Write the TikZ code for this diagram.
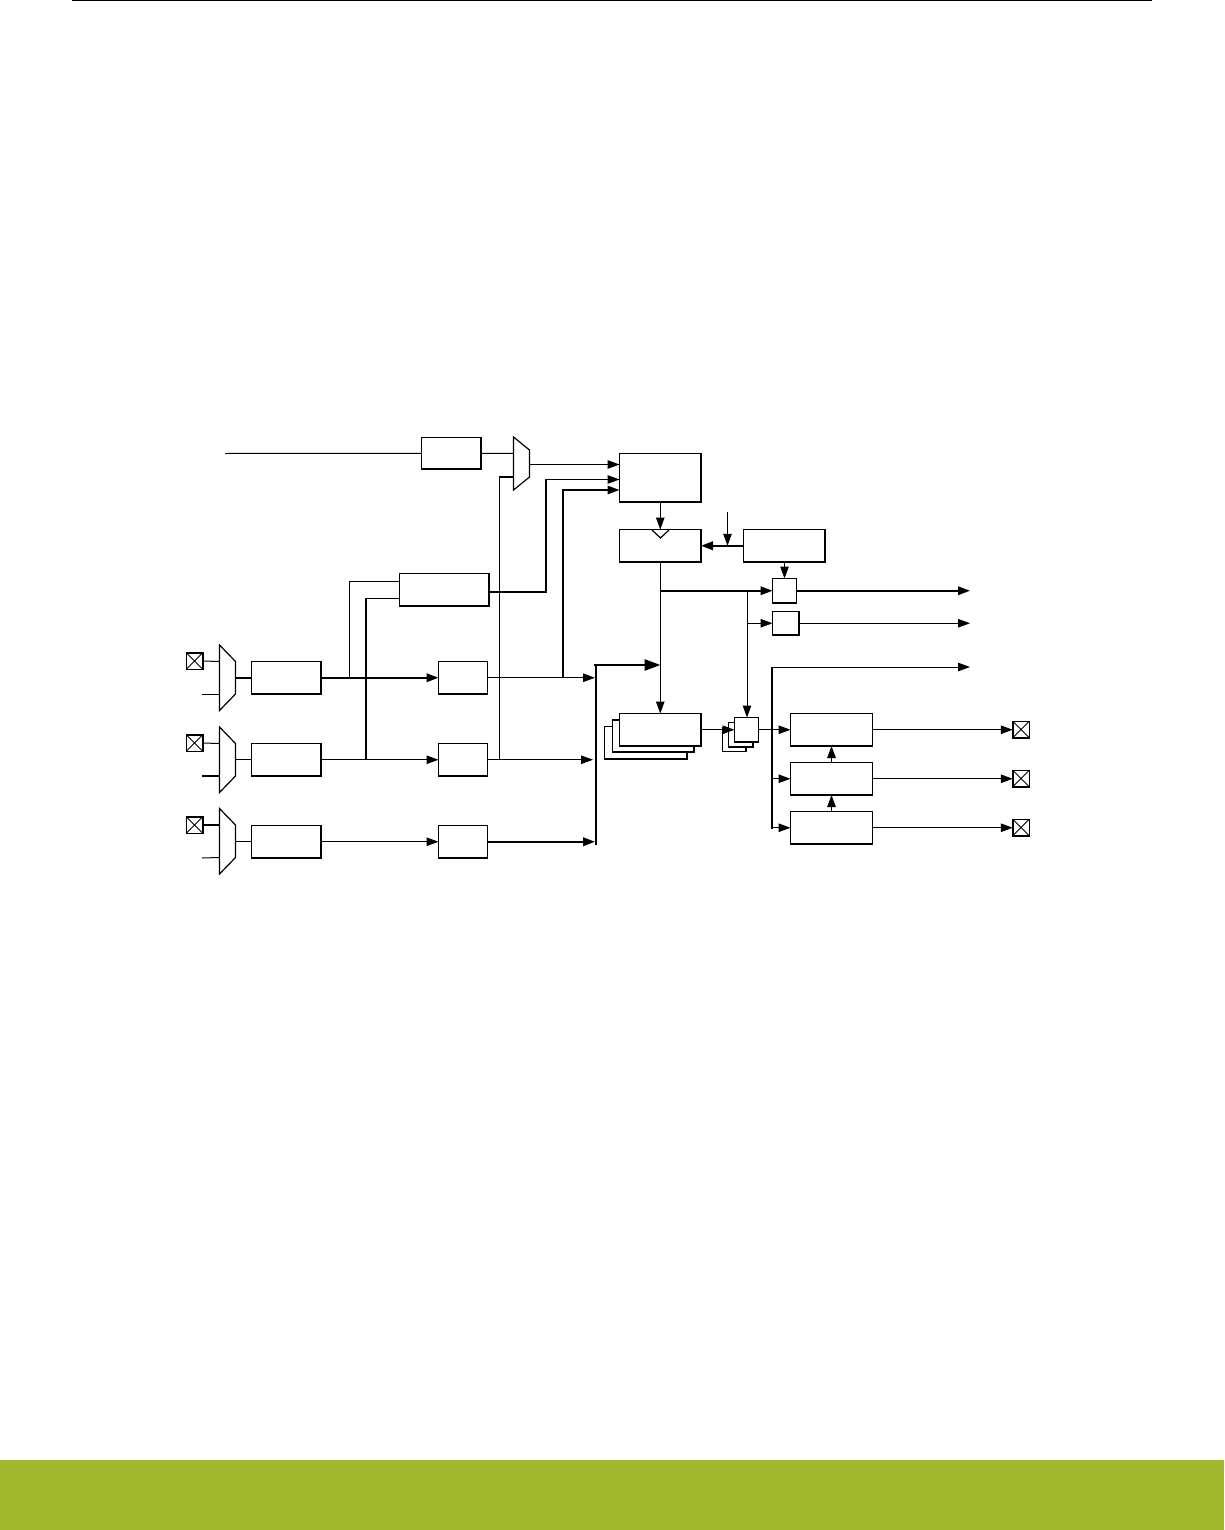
\documentclass[tikz,border=0pt]{standalone}
\usetikzlibrary{arrows.meta,calc}
\definecolor{bandgreen}{HTML}{A2B92E}
\tikzset{
  x=1pt,y=-1pt,
  thin line/.style={line width=1pt},
  thick line/.style={line width=2pt},
  heavy edge/.style={line width=1.8pt,line cap=square},
  box/.style={draw=black,line width=1.1pt,fill=white,inner sep=0pt,outer sep=0pt},
  muxshape/.style={draw=black,line width=1.2pt,fill=white,line join=miter},
  pad/.style={draw=black,line width=1.5pt,fill=white,inner sep=0pt,outer sep=0pt,minimum size=16.5pt,
    path picture={\draw[line width=1pt] (path picture bounding box.north west)--(path picture bounding box.south east)
      (path picture bounding box.north east)--(path picture bounding box.south west);}},
  arr/.style={-{Triangle[length=12pt,width=8.5pt]}},
  bigarr/.style={-{Triangle[length=16pt,width=11pt]}},
}
\newcommand{\bx}[5]{\pgfmathsetmacro\bxw{#4-#2-.5}\pgfmathsetmacro\bxh{#5-#3-.5}%
  \node[box,minimum width=\bxw pt,minimum height=\bxh pt] (#1) at ({(#2+#4+.5)/2},{(#3+#5+.5)/2}) {};}
\newcommand{\muxleft}[3]{%
  \coordinate (#1a) at (#2,#3);
  \coordinate (#1b) at (#2+16,#3+16.5);
  \coordinate (#1c) at (#2+16,#3+49);
  \coordinate (#1d) at (#2,#3+65.5);
  \draw[muxshape] (#1a)--(#1b)--(#1c)--(#1d)--cycle;
  \coordinate (#1out) at (#2+16,#3+33);
  \coordinate (#1i) at (#2,#3+16.5);
  \coordinate (#1j) at (#2,#3+49);
}
\begin{document}
\begin{tikzpicture}
\useasboundingbox (0,0) rectangle (1224,1530);
\fill[white] (0,0) rectangle (1224,1530);
% page furniture
\fill[black] (72,0) rectangle (1152,1.2);
\fill[bandgreen] (0,1460) rectangle (1224,1530);

% top selector
\coordinate (topm1) at (513.5,437);
\coordinate (topm2) at (529.5,450);
\coordinate (topm3) at (529.5,477);
\coordinate (topm4) at (513.5,490);
\coordinate (topmsel) at (513.5,477);
\coordinate (topmout) at (529.5,464.5);

% boxes
\bx{prediv}{421}{437}{481}{469}
\bx{sel}{619}{453}{701}{502}
\bx{cnt}{619}{529}{701}{562}
\bx{ctl}{743}{529}{825}{562}
\bx{gateA}{772}{578}{796.5}{603}
\bx{gateB}{772}{611}{799}{635}
\bx{mid}{399}{573}{489}{606}
\bx{fa}{251}{661}{321}{694}
\bx{fb}{251}{743}{321}{776}
\bx{fc}{251}{825}{321}{858}
\bx{ea}{438}{661}{487.5}{694}
\bx{eb}{438}{743}{487.5}{776}
\bx{ec}{438}{825}{487.5}{858}
\bx{ra}{790}{713}{872.5}{746}
\bx{rb}{790}{762}{872.5}{795}
\bx{rc}{790}{811}{872.5}{844}

% pads
\node[pad] (pa) at (194.5,661) {};
\node[pad] (pb) at (194.5,743) {};
\node[pad] (pc) at (194.5,825) {};
\node[pad] (po1) at (1021,729.5) {};
\node[pad] (po2) at (1021,778.5) {};
\node[pad] (po3) at (1021,827.5) {};

% free ends
\coordinate (inT) at (225,453.5);
\coordinate (inCtl) at (727.5,512);
\coordinate (outA) at (970,591);
\coordinate (outB) at (970,623);
\coordinate (outC) at (970,667);
\coordinate (la2) at (202,694);
\coordinate (lb2) at (202,776);
\coordinate (lc2) at (202,858);

% left selectors
\muxleft{ma}{219.5}{645}
\muxleft{mb}{219.5}{727}
\muxleft{mc}{219.5}{808.5}

% left inputs
\draw[thin line] (pa.east)--(mai);
\draw[thin line] (la2)--(maj);
\draw[thin line] (pb.east)--(mbi);
\draw[thick line] (lb2)--(mbj);
\draw[thick line] (pc.east)--(mci);
\draw[thin line] (lc2)--(mcj);
\draw[thick line] (fa.west -| maout)--(fa.west);
\draw[thin line] (fb.west -| mbout)--(fb.west);
\draw[thin line] (fc.west -| mcout)--(fc.west);

% filter to edge box
\draw[thick line,arr] (fa.east)--(ea.west);
\draw[thin line,arr] (fb.east)--(eb.west);
\draw[thin line,arr] (fc.east)--(ec.west);

% into the middle box
\coordinate (tapA) at (ea.west -| 349.5,0);
\coordinate (tapB) at (eb.west -| 366,0);
\draw[thin line] (tapA)--(349.5,581.5)--(mid.west |- 0,581.5);
\draw[thick line] (tapB)--(366,598);
\draw[thin line] (365,598)--(mid.west |- 0,598);

% top path
\draw[thin line] (inT)--(prediv.west);
\draw[thin line] (prediv.east)--(513.5,453.5);
\draw[muxshape] (topm1)--(topm2)--(topm3)--(topm4)--cycle;
\draw[thin line,arr] (topmout)--(topmout -| sel.west);

% selector line of the top mux
\draw[thin line] (eb.east -| 499.5,0)--(499.5,477);
\draw[thick line] (498.5,477)--(topmsel);

% middle box to sel
\draw[thick line] (mid.east |- 0,592)--(546,592);
\draw[thick line] (546,593)--(546,479.5);
\draw[thin line,arr] (545,479.5)--(sel.west |- 0,479.5);
\draw[thick line] (ea.east -| 562.5,0)--(562.5,490);
\draw[line width=1.5pt,arr] (561.5,490)--(sel.west |- 0,490);

% edge outputs to bus
\coordinate (busT) at (595.5,665);
\coordinate (busB) at (595.5,845);
\draw[thin line,arr] (ea.east)--(ea.east -| 595,0);
\draw[thin line,arr] (eb.east)--(eb.east -| 593,0);
\draw[thick line,arr] (ec.east)--(ec.east -| 595,0);
\draw[line width=2pt] (busB)--(busT);
\draw[line width=2.6pt,bigarr] (594.2,665)--(660.5,665);

% counter column
\draw[thin line,arr] (sel.south)--(cnt.north);
\draw[line width=1.2pt] (652,530)--(660.5,538)--(669,530);
\draw[thick line,arr] (ctl.west)--(cnt.east);
\draw[thin line,arr] (inCtl)--(ctl.west -| inCtl);
\draw[thin line,arr] (ctl.south -| gateA.north)--(gateA.north);

% compare stacks
\bx{st3}{604}{726}{687}{759}
\bx{st2}{612}{719.5}{694}{752}
\bx{st1}{619}{713}{701}{746}
\bx{ss3}{722}{727}{746}{751.5}
\bx{ss2}{728}{722}{753}{747}
\bx{ss1}{734}{717}{758.5}{742}

\draw[thin line,arr] (cnt.south)--(st1.north);
\draw[thick line,arr] (gateA.west -| 660.5,0)--(gateA.west);
\draw[thin line,arr] (gateA.west -| 747,0)--(ss1.north -| 747,0);
\draw[thin line,arr] (gateB.west -| 747,0)--(gateB.west);
\draw[thick line,arr] (gateA.east)--(gateA.east -| outA);
\draw[thin line,arr] (gateB.east)--(gateB.east -| outB);

\draw[thin line,arr] (st1.east)--(st1.east -| ss1.west);
\draw[thin line] (ss1.east)--(ss1.east -| 771.5,0);

% right bus
\draw[thin line,arr] (771,667)--(outC);
\draw[thick line] (771.5,666.5)--(771.5,828.5);
\draw[thin line,arr] (ra.west -| 771.5,0)--(ra.west);
\draw[thin line,arr] (rb.west -| 771.5,0)--(rb.west);
\draw[thin line,arr] (rc.west -| 771.5,0)--(rc.west);
\draw[thin line,arr] (rb.north)--(ra.south);
\draw[thin line,arr] (rc.north)--(rb.south);
\draw[thin line,arr] (ra.east)--(ra.east -| po1.west);
\draw[thin line,arr] (rb.east)--(rb.east -| po2.west);
\draw[thin line,arr] (rc.east)--(rc.east -| po3.west);

% heavier box edges as printed
\draw[heavy edge] (prediv.north west)--(prediv.north east);
\draw[heavy edge] (sel.north east)--(sel.south east);
\draw[heavy edge] (cnt.north east)--(cnt.south east);
\draw[heavy edge] (gateA.south west)--(gateA.south east);
\draw[heavy edge] (mid.north east)--(mid.south east)--(mid.south west)--(mid.north west);
\draw[heavy edge] (fb.south west)--(fb.south east);
\draw[heavy edge] (eb.south west)--(eb.south east);
\draw[heavy edge] (fc.north west)--(fc.north east);
\draw[heavy edge] (ec.north west)--(ec.north east);
\draw[heavy edge] (st1.north east)--(st1.south east)--(st1.south west);
\draw[heavy edge] (st2.north west)--(st2.south west);
\draw[heavy edge] (st2.south west)--(st2.south east);
\draw[heavy edge] (ss2.north west)--(ss2.south west);
\draw[heavy edge] (ss3.north west)--(ss3.south west);
\draw[heavy edge] (ss1.south west)--(ss1.south east);
\draw[heavy edge] (ra.south west)--(ra.south east);
\draw[heavy edge] (rb.south west)--(rb.south east);
\draw[heavy edge] (rc.south west)--(rc.south east);
\end{tikzpicture}
\end{document}
